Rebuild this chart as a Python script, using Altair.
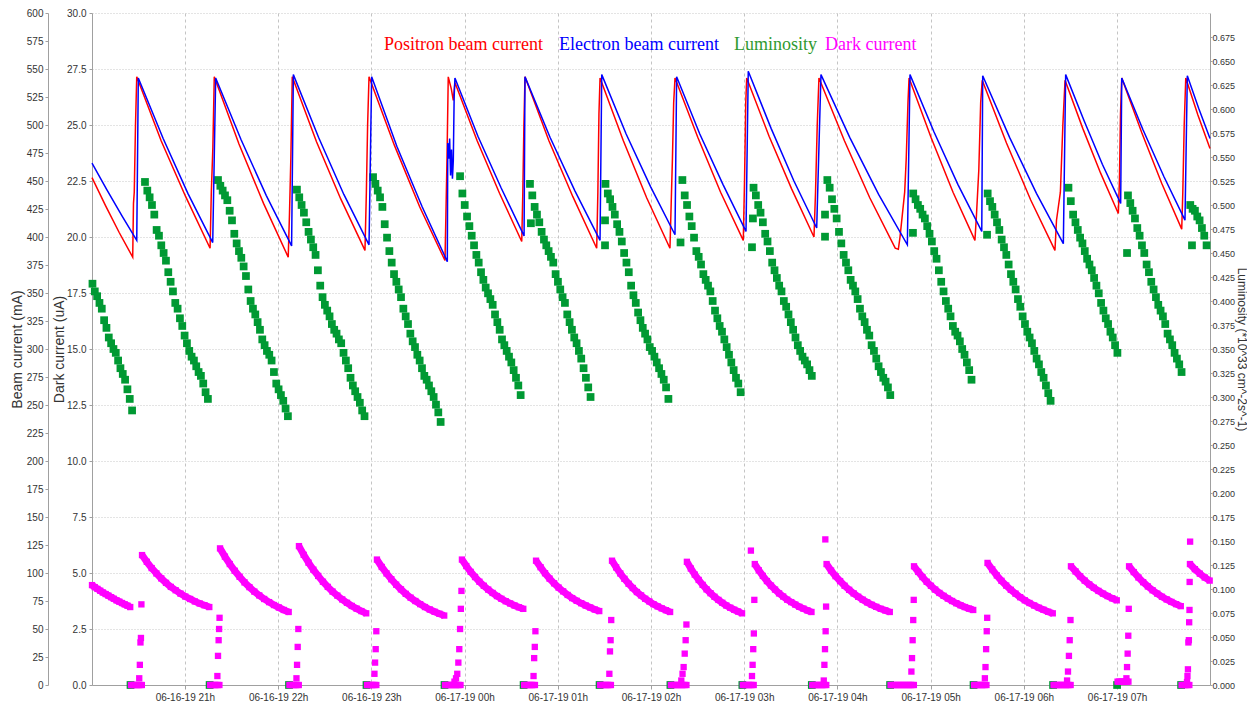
import altair as alt
import numpy as np
import pandas as pd

# ---------------------------------------------------------------- data
BASE = pd.Timestamp("2019-06-16 20:00:00")   # minutes below are counted from here

BEAM_TICKS = list(range(0, 601, 25))
DARK_TICKS = [i * 2.5 for i in range(13)]
LUM_TICKS = [round(i * 0.025, 3) for i in range(28)]
HOUR_TICKS = [(16, 21), (16, 22), (16, 23), (17, 0), (17, 1), (17, 2), (17, 3), (17, 4),
              (17, 5), (17, 6), (17, 7)]

# beam currents: (minutes after 20:00, mA)
POSITRON = [
    (0.2, 453), (8.9, 428), (17.7, 404), (26.4, 382), (26.9, 430), (27.4, 440), (28.2, 500), (29.0, 543),
    (44.7, 486), (60.5, 436), (76.2, 390), (77.0, 440), (78.0, 480), (78.9, 543),
    (94.8, 483), (110.6, 430), (126.5, 382), (127.3, 420), (128.2, 470), (129.1, 543),
    (144.7, 485), (160.3, 434), (175.9, 388), (176.8, 440), (177.6, 500), (178.5, 543),
    (194.8, 482), (211.1, 427), (227.4, 379), (228.0, 420), (228.7, 470), (229.5, 543), (231.5, 532),
    (232.75, 522), (233.8, 538),
    (248.1, 486), (262.5, 439), (276.8, 396), (277.5, 440), (278.2, 500), (278.9, 543),
    (294.3, 486), (309.7, 436), (325.05, 390), (325.8, 440), (326.5, 510), (327.2, 542),
    (342.2, 486), (357.2, 435), (372.2, 390), (373.0, 430), (373.8, 470), (374.6, 520), (375.45, 542),
    (390.1, 489), (404.8, 440), (419.4, 397), (420.2, 450), (421.0, 520), (421.6, 542),
    (436.0, 490), (450.5, 443), (464.9, 400), (465.9, 440), (467.0, 500), (468.1, 542),
    (484.5, 486), (500.8, 435), (517.2, 390), (519.2, 389), (520.3, 400), (521.8, 420), (523.3, 440),
    (524.3, 470), (525.4, 520), (526.1, 542),
    (540.2, 489), (554.4, 440), (568.5, 397), (569.5, 420), (571.0, 460), (572.2, 520), (573.2, 540),
    (588.8, 484), (604.4, 433), (620.0, 388), (621.0, 415), (622.0, 425), (623.5, 440), (625.1, 500), (626.5, 540),
    (637.9, 497), (649.4, 457), (660.8, 421), (661.5, 450), (662.2, 510), (663.0, 542),
    (675.9, 493), (688.7, 448), (701.6, 407), (702.3, 440), (703.2, 500), (704.2, 542),
    (712.0, 509), (719.8, 479),
]
ELECTRON = [
    (0.2, 466), (9.8, 442), (19.4, 419), (29.0, 397), (30.0, 542),
    (46.0, 488), (61.9, 439), (77.9, 395), (79.8, 542),
    (96.1, 487), (112.4, 437), (128.7, 392), (129.8, 545),
    (146.0, 489), (162.3, 438), (178.5, 393), (180.2, 543),
    (196.4, 481), (212.7, 427), (228.9, 378), (229.2, 484), (229.8, 470), (230.4, 488), (231.0, 455),
    (231.6, 478), (232.2, 452), (232.75, 468), (233.3, 525), (233.8, 542),
    (248.6, 490), (263.5, 444), (278.3, 401), (278.9, 543),
    (295.0, 489), (311.1, 441), (327.2, 397), (328.3, 545),
    (344.0, 492), (359.7, 445), (375.45, 402), (376.5, 543),
    (391.4, 492), (406.3, 447), (421.15, 405), (422.6, 548),
    (437.3, 497), (452.0, 450), (466.65, 408), (469.4, 545),
    (487.9, 489), (506.5, 438), (525.0, 393), (526.7, 545),
    (542.1, 494), (557.5, 447), (572.9, 405), (573.5, 544),
    (590.8, 489), (608.1, 439), (625.4, 394), (626.9, 545),
    (638.7, 504), (650.5, 465), (662.3, 430), (663.0, 542),
    (676.6, 496), (690.1, 454), (703.7, 415), (705.2, 544),
    (712.5, 515), (719.8, 488),
]

# luminosity: one list per fill, one sample every LUM_STEP minutes from its start
LUM_STEP = 1.5
LUM_STARTS = [0.5, 34.3, 81.3, 132.1, 181.1, 237.1, 282.1, 330.7, 380.2, 426.0,
              473.5, 528.8, 576.7, 628.7, 667.0, 707.1]
LUM_VALUES = [
    [0.418, 0.410, 0.405, 0.398, 0.392, 0.380, 0.372, 0.362, 0.356, 0.350, 0.346, 0.338, 0.330, 0.324,
     0.318, 0.308, 0.298, 0.286],
    [0.524, 0.515, 0.508, 0.500, 0.490, 0.474, 0.468, 0.458, 0.450, 0.442, 0.430, 0.420, 0.410, 0.398,
     0.392, 0.382, 0.374, 0.364, 0.356, 0.348, 0.342, 0.338, 0.332, 0.326, 0.322, 0.314, 0.305, 0.298],
    [0.526, 0.520, 0.515, 0.510, 0.505, 0.494, 0.484, 0.470, 0.460, 0.452, 0.445, 0.436, 0.426, 0.412,
     0.400, 0.392, 0.386, 0.378, 0.370, 0.360, 0.354, 0.348, 0.344, 0.338, 0.326, 0.314, 0.308, 0.302,
     0.296, 0.288, 0.280],
    [0.516, 0.508, 0.500, 0.492, 0.482, 0.472, 0.464, 0.456, 0.448, 0.432, 0.416, 0.404, 0.396, 0.390,
     0.384, 0.376, 0.370, 0.366, 0.360, 0.356, 0.346, 0.338, 0.330, 0.320, 0.312, 0.306, 0.300, 0.294,
     0.286, 0.280],
    [0.529, 0.522, 0.515, 0.508, 0.498, 0.480, 0.466, 0.452, 0.440, 0.428, 0.420, 0.412, 0.404, 0.392,
     0.384, 0.376, 0.366, 0.358, 0.352, 0.344, 0.338, 0.330, 0.322, 0.318, 0.312, 0.306, 0.300, 0.292,
     0.284, 0.274],
    [0.530, 0.512, 0.500, 0.488, 0.478, 0.468, 0.458, 0.448, 0.440, 0.430, 0.422, 0.414, 0.408, 0.402,
     0.396, 0.386, 0.378, 0.370, 0.360, 0.354, 0.348, 0.342, 0.336, 0.328, 0.320, 0.312, 0.302],
    [0.522, 0.510, 0.498, 0.490, 0.482, 0.472, 0.464, 0.458, 0.452, 0.446, 0.440, 0.428, 0.420, 0.412,
     0.404, 0.398, 0.386, 0.378, 0.370, 0.362, 0.356, 0.348, 0.340, 0.330, 0.320, 0.310, 0.300],
    [0.522, 0.512, 0.506, 0.498, 0.490, 0.480, 0.472, 0.462, 0.450, 0.440, 0.430, 0.416, 0.406, 0.398,
     0.388, 0.380, 0.372, 0.366, 0.360, 0.352, 0.348, 0.342, 0.336, 0.330, 0.324, 0.318, 0.310, 0.298],
    [0.526, 0.510, 0.500, 0.488, 0.478, 0.466, 0.452, 0.446, 0.438, 0.428, 0.422, 0.416, 0.410, 0.400,
     0.390, 0.382, 0.374, 0.368, 0.360, 0.352, 0.344, 0.336, 0.328, 0.320, 0.314, 0.305],
    [0.518, 0.510, 0.500, 0.492, 0.482, 0.470, 0.462, 0.452, 0.440, 0.432, 0.424, 0.416, 0.410, 0.400,
     0.394, 0.386, 0.378, 0.370, 0.362, 0.354, 0.348, 0.342, 0.338, 0.334, 0.328, 0.322],
    [0.526, 0.518, 0.506, 0.496, 0.486, 0.472, 0.460, 0.448, 0.440, 0.432, 0.422, 0.416, 0.410, 0.402,
     0.392, 0.384, 0.378, 0.370, 0.364, 0.354, 0.348, 0.340, 0.332, 0.326, 0.320, 0.316, 0.310, 0.302],
    [0.512, 0.506, 0.500, 0.496, 0.490, 0.486, 0.478, 0.470, 0.462, 0.452, 0.444, 0.432, 0.420, 0.410,
     0.400, 0.392, 0.384, 0.374, 0.368, 0.364, 0.358, 0.350, 0.344, 0.336, 0.328, 0.318],
    [0.512, 0.504, 0.498, 0.490, 0.482, 0.474, 0.464, 0.456, 0.448, 0.438, 0.428, 0.420, 0.412, 0.402,
     0.394, 0.384, 0.376, 0.368, 0.362, 0.356, 0.348, 0.340, 0.334, 0.326, 0.320, 0.312, 0.304, 0.296],
    [0.518, 0.504, 0.490, 0.482, 0.474, 0.466, 0.460, 0.452, 0.444, 0.438, 0.432, 0.424, 0.416, 0.408,
     0.398, 0.390, 0.382, 0.376, 0.368, 0.362, 0.354, 0.346],
    [0.510, 0.502, 0.494, 0.486, 0.476, 0.468, 0.458, 0.450, 0.438, 0.430, 0.420, 0.412, 0.404, 0.396,
     0.390, 0.384, 0.376, 0.366, 0.360, 0.354, 0.346, 0.340, 0.334, 0.326],
    [0.500, 0.496, 0.494, 0.488, 0.484, 0.476, 0.468, 0.458],
]
LUM_EXTRA = [(282.7, 0.481), (330.4, 0.484), (330.4, 0.458), (379.0, 0.461), (425.0, 0.456),
             (425.6, 0.486), (472.0, 0.490), (472.0, 0.467), (528.6, 0.471), (576.3, 0.469),
             (666.4, 0.450), (708.2, 0.458)]

# dark current: decays (start, end, values evenly spread between them)
DARK_DECAYS = [
    (0.2, 24.8, [4.46, 4.37, 4.29, 4.21, 4.13, 4.06, 3.99, 3.92, 3.85, 3.78, 3.72, 3.66, 3.60, 3.54, 3.48]),
    (32.4, 75.7, [5.80, 5.50, 5.22, 4.98, 4.76, 4.56, 4.38, 4.23, 4.08, 3.95, 3.84, 3.73, 3.64, 3.56, 3.48]),
    (82.6, 126.8, [6.10, 5.73, 5.40, 5.10, 4.83, 4.58, 4.37, 4.17, 4.00, 3.84, 3.70, 3.57, 3.46, 3.35, 3.26]),
    (133.4, 176.7, [6.20, 5.81, 5.46, 5.15, 4.87, 4.61, 4.38, 4.17, 3.99, 3.82, 3.67, 3.53, 3.41, 3.30, 3.20]),
    (183.6, 226.9, [5.60, 5.27, 4.98, 4.72, 4.48, 4.27, 4.07, 3.90, 3.75, 3.61, 3.48, 3.37, 3.27, 3.18, 3.10]),
    (238.3, 277.8, [5.60, 5.31, 5.05, 4.82, 4.61, 4.43, 4.26, 4.11, 3.97, 3.85, 3.74, 3.64, 3.55, 3.47, 3.40]),
    (286.0, 326.7, [5.55, 5.26, 4.99, 4.75, 4.54, 4.35, 4.18, 4.02, 3.88, 3.76, 3.65, 3.55, 3.46, 3.37, 3.30]),
    (334.9, 372.3, [5.55, 5.25, 4.98, 4.74, 4.52, 4.33, 4.15, 4.00, 3.85, 3.73, 3.61, 3.51, 3.42, 3.34, 3.26]),
    (383.1, 418.6, [5.50, 5.20, 4.93, 4.69, 4.47, 4.27, 4.10, 3.94, 3.80, 3.67, 3.55, 3.45, 3.36, 3.28, 3.20]),
    (426.8, 463.3, [5.40, 5.12, 4.87, 4.64, 4.44, 4.26, 4.09, 3.95, 3.81, 3.70, 3.59, 3.49, 3.41, 3.33, 3.26]),
    (473.0, 513.7, [5.40, 5.11, 4.86, 4.64, 4.43, 4.25, 4.09, 3.94, 3.81, 3.69, 3.58, 3.49, 3.40, 3.33, 3.26]),
    (529.3, 567.4, [5.30, 5.05, 4.82, 4.61, 4.43, 4.26, 4.11, 3.98, 3.86, 3.75, 3.65, 3.56, 3.48, 3.41, 3.35]),
    (576.6, 618.6, [5.45, 5.16, 4.89, 4.65, 4.44, 4.25, 4.08, 3.92, 3.78, 3.66, 3.55, 3.45, 3.36, 3.27, 3.20]),
    (630.3, 659.8, [5.30, 5.07, 4.85, 4.66, 4.49, 4.34, 4.20, 4.08, 3.97, 3.87, 3.78]),
    (667.7, 701.0, [5.30, 5.04, 4.80, 4.59, 4.40, 4.23, 4.08, 3.94, 3.82, 3.71, 3.61, 3.52]),
    (706.9, 719.6, [5.40, 5.17, 4.97, 4.80, 4.66]),
]
# injection periods: (start, end, level) where the dark current sits at the bottom
INJ_ZERO = [(25.3, 32.4, 0), (76.2, 82.6, 0), (127.3, 133.4, 0), (177.2, 183.6, 0), (227.4, 238.3, 0),
            (278.3, 286.0, 0), (327.2, 334.9, 0), (372.8, 383.1, 0), (419.1, 426.8, 0), (463.8, 473.0, 0),
            (514.2, 529.3, 0), (567.9, 576.6, 0), (619.1, 630.3, 0), (660.3, 667.7, 0.15), (701.5, 706.9, 0)]
DARK_RAMPS = [
    (30.6, 0.3), (31.0, 0.9), (31.4, 1.9), (31.7, 2.1), (32.0, 3.6),
    (80.9, 0.4), (81.3, 1.3), (81.7, 2.0), (82.0, 2.5), (82.3, 3.0),
    (131.8, 0.3), (132.2, 0.9), (132.6, 1.7), (133.0, 2.5),
    (182.0, 0.5), (182.4, 1.0), (182.8, 1.6), (183.2, 2.4),
    (233.5, 0.15), (234.5, 0.3), (235.3, 0.5), (236.0, 1.0), (236.6, 1.6), (237.1, 2.5), (237.6, 3.4), (238.0, 4.2),
    (284.4, 0.4), (284.8, 1.2), (285.2, 1.7), (285.6, 2.4),
    (333.2, 0.5), (333.6, 1.5), (334.0, 2.0), (334.4, 2.9),
    (379.5, 0.2), (380.3, 0.5), (381.0, 0.8), (381.7, 1.4), (382.3, 2.0), (382.8, 2.7),
    (425.0, 0.4), (425.4, 0.9), (425.8, 1.6), (426.2, 2.3), (426.5, 3.8), (424.3, 6.0),
    (471.2, 0.2), (471.6, 0.9), (472.0, 1.6), (472.4, 2.4), (472.7, 3.5), (472.2, 6.5),
    (527.6, 0.6), (528.0, 1.2), (528.4, 2.0), (528.8, 2.9), (529.1, 3.8),
    (574.9, 0.3), (575.3, 0.8), (575.7, 1.6), (576.1, 2.4), (576.4, 3.0),
    (627.8, 0.2), (628.4, 0.6), (629.0, 1.3), (629.5, 2.0), (630.0, 2.9),
    (666.0, 0.3), (666.4, 0.8), (666.8, 1.4), (667.2, 2.2), (667.5, 3.4),
    (705.0, 0.13), (705.3, 0.4), (705.6, 0.7), (705.9, 1.9), (706.2, 2.0), (706.4, 2.8), (706.6, 3.35),
    (706.7, 4.6), (707.0, 6.4),
]

LEGEND = [("Positron beam current", "#ff0000", 292),
          ("Electron beam current", "#0000ff", 467),
          ("Luminosity", "#2f9a2f", 642),
          ("Dark current", "#ff00ff", 733)]

RED, BLUE, GREEN, MAGENTA = "#ff0000", "#0000ff", "#009933", "#ff00ff"


# ---------------------------------------------------------------- tables
def ts(m):
    return (BASE + pd.Timedelta(minutes=float(m))).strftime("%Y-%m-%dT%H:%M:%S")


beam_rows = [("Positron", ts(a), b) for a, b in POSITRON] + [("Electron", ts(a), b) for a, b in ELECTRON]
beam_df = pd.DataFrame(beam_rows, columns=["s", "t", "v"])

lum_rows = []
for start, vals in zip(LUM_STARTS, LUM_VALUES):
    for i, v in enumerate(vals):
        lum_rows.append((start + i * LUM_STEP, v))
lum_rows += LUM_EXTRA
lum_rows += [(z0 - 0.3, 0.0) for z0, _, _ in INJ_ZERO]
lum_df = pd.DataFrame({"t": [ts(a) for a, _ in lum_rows], "v": [b for _, b in lum_rows]})

decay_rows = []
for k, (t0, t1, vals) in enumerate(DARK_DECAYS):
    for t, v in zip(np.linspace(t0, t1, len(vals)), vals):
        decay_rows.append((k, ts(t), v))
decay_df = pd.DataFrame(decay_rows, columns=["c", "t", "v"])

dark_pts = []
for z0, z1, lvl in INJ_ZERO:
    for t in np.arange(z0, z1 + 1e-6, 1.0):
        dark_pts.append((t, lvl))
dark_pts += DARK_RAMPS
dark_df = pd.DataFrame({"t": [ts(a) for a, _ in dark_pts], "v": [b for _, b in dark_pts]})
dark_df = pd.concat([dark_df, decay_df[["t", "v"]]], ignore_index=True)

# ---------------------------------------------------------------- encodings
LABEL_FONT = "Liberation Sans"

x_enc = alt.X(
    "t:T",
    scale=alt.Scale(domain=[
        alt.DateTime(year=2019, month=6, date=16, hours=20, minutes=0, seconds=12),
        alt.DateTime(year=2019, month=6, date=17, hours=7, minutes=59, seconds=48)]),
    axis=alt.Axis(title=None, format="%m-%d-%y %Hh",
                  values=[alt.DateTime(year=2019, month=6, date=d, hours=h) for d, h in HOUR_TICKS],
                  grid=True, gridColor="#c4c4c4", gridDash=[3, 3], tickSize=4, labelPadding=3,
                  labelOverlap=False),
)

beam_y = alt.Y("v:Q", scale=alt.Scale(domain=[0, 600], nice=False),
               axis=alt.Axis(orient="left", offset=44, values=BEAM_TICKS, format="d",
                             title="Beam current (mA)", grid=False, tickSize=3, labelPadding=2,
                             labelOverlap=False, titleX=-31, titleBaseline="middle"))

dark_y = alt.Y("v:Q", scale=alt.Scale(domain=[0, 30], nice=False),
               axis=alt.Axis(orient="left", offset=0, values=DARK_TICKS, format=".1f",
                             title="Dark current (uA)", grid=True, gridColor="#c8c8c8",
                             gridDash=[1, 2], tickSize=3, labelPadding=3, labelOverlap=False,
                             titleX=-33, titleBaseline="middle"))
dark_y_noaxis = alt.Y("v:Q", scale=alt.Scale(domain=[0, 30], nice=False), axis=None)

lum_y = alt.Y("v:Q", scale=alt.Scale(domain=[0, 0.7], nice=False),
              axis=alt.Axis(orient="right", values=LUM_TICKS, format=".3f",
                            title="Luminosity (*10^33 cm^-2s^-1)", titleAngle=90, grid=False,
                            tickSize=2, labelPadding=0, labelOverlap=False, labelFontSize=9,
                            titleX=31, titleBaseline="middle", titleFontSize=12))

lum_layer = alt.Chart(lum_df).mark_square(size=60, color=GREEN, opacity=1).encode(x=x_enc, y=lum_y)
dark_layer = alt.Chart(dark_df).mark_square(size=40, color=MAGENTA, opacity=1).encode(x=x_enc, y=dark_y)
decay_layer = alt.Chart(decay_df).mark_line(color=MAGENTA, strokeWidth=7).encode(
    x=x_enc, y=dark_y_noaxis, detail="c:N")
beam_layer = alt.Chart(beam_df).mark_line(strokeWidth=1.5).encode(
    x=x_enc, y=beam_y,
    color=alt.Color("s:N", scale=alt.Scale(domain=["Positron", "Electron"], range=[RED, BLUE]),
                    legend=None))

legend_df = pd.DataFrame({"label": [l for l, _, _ in LEGEND]})
texts = []
for label, col, px in LEGEND:
    texts.append(
        alt.Chart(legend_df).transform_filter(alt.datum.label == label)
        .mark_text(align="left", baseline="alphabetic", font="Liberation Serif", fontSize=18, color=col)
        .encode(x=alt.value(px), y=alt.value(37), text="label:N")
    )

chart = (
    alt.layer(lum_layer, dark_layer, decay_layer, beam_layer, *texts)
    .resolve_scale(y="independent")
    .properties(width=1118, height=672,
                padding={"left": 84, "top": 5, "right": 37, "bottom": 20},
                autosize=alt.AutoSizeParams(type="none"))
    .configure_view(stroke=None)
    .configure_axis(labelFont=LABEL_FONT, labelFontSize=10, labelColor="#333333",
                    titleFont="Liberation Sans", titleFontSize=14, titleFontWeight="normal",
                    titleColor="#333333", domainColor="#a0a0a0", tickColor="#a0a0a0")
)

chart.save("out.html", embed_options={"renderer": "svg", "actions": False})
